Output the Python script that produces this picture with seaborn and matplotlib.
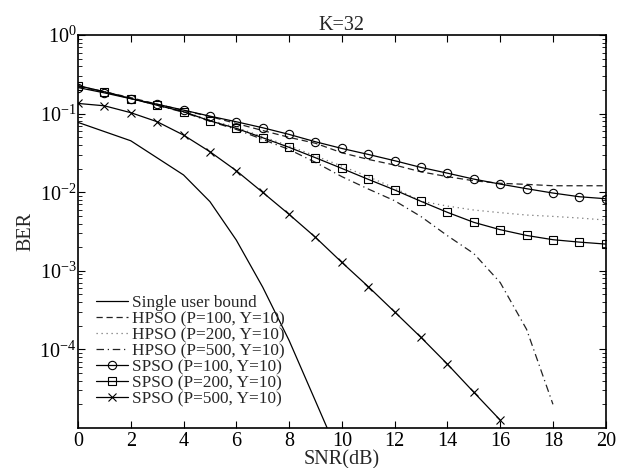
import numpy as np
import pandas as pd
import matplotlib
matplotlib.use("Agg")
import matplotlib.pyplot as plt
import seaborn as sns
from matplotlib.ticker import LogLocator, NullFormatter, LogFormatterSciNotation

# ---- data ----
snr = list(range(0, 21))
single_snr = [0, 2, 4, 5, 6, 7, 8, 9, 10]
single_ber = [0.0775, 0.0452, 0.0166, 0.0076, 0.00246, 6.2e-4, 1.3e-4, 2.2e-5, 3.7e-6]

hpso100 = [0.22, 0.19, 0.16, 0.132, 0.11, 0.092, 0.075, 0.061, 0.05, 0.042, 0.0318,
           0.0262, 0.0222, 0.0182, 0.0158, 0.0140, 0.0130, 0.0126, 0.0121, 0.0121, 0.0121]
hpso200 = [0.225, 0.19, 0.158, 0.13, 0.107, 0.083, 0.067, 0.051, 0.039, 0.029, 0.0215,
           0.0158, 0.0113, 0.0077, 0.00667, 0.00594, 0.0055, 0.00513, 0.00493, 0.0047, 0.00443]
hpso500_snr = list(range(0, 19))
hpso500 = [0.225, 0.19, 0.157, 0.128, 0.104, 0.08, 0.063, 0.047, 0.035, 0.024, 0.0158,
           0.011, 0.0078, 0.0049, 0.0028, 0.00166, 7.1e-4, 1.8e-4, 2.0e-5]
spso100 = [0.215, 0.184, 0.155, 0.132, 0.111, 0.093, 0.0789, 0.0662, 0.0545, 0.0439, 0.0361,
           0.0303, 0.0252, 0.0207, 0.0175, 0.0147, 0.0127, 0.0111, 0.00977, 0.00877, 0.00827]
spso200 = [0.228, 0.19, 0.156, 0.128, 0.106, 0.081, 0.065, 0.0494, 0.0373, 0.0275, 0.0201,
           0.0146, 0.0107, 0.00766, 0.00555, 0.00414, 0.00334, 0.00282, 0.00249, 0.00232, 0.00219]
spso500_snr = list(range(0, 17))
spso500 = [0.135, 0.126, 0.103, 0.079, 0.0534, 0.0328, 0.0188, 0.00996, 0.00523, 0.00267,
           0.00128, 6.3e-4, 3.0e-4, 1.42e-4, 6.5e-5, 2.85e-5, 1.26e-5]

labels = ["Single user bound", "HPSO (P=100, Y=10)", "HPSO (P=200, Y=10)",
          "HPSO (P=500, Y=10)", "SPSO (P=100, Y=10)", "SPSO (P=200, Y=10)",
          "SPSO (P=500, Y=10)"]
yticks = [1e-4, 1e-3, 1e-2, 1e-1, 1e0]

sns.set_theme(style="ticks")
plt.rcParams["font.family"] = ["Liberation Serif", "DejaVu Serif"]
plt.rcParams["mathtext.fontset"] = "custom"
plt.rcParams["mathtext.rm"] = "Liberation Serif"
plt.rcParams["mathtext.it"] = "Liberation Serif:italic"
plt.rcParams["mathtext.bf"] = "Liberation Serif:bold"

fig = plt.figure(figsize=(6.2, 4.68), dpi=100)
ax = fig.add_axes([0.1258, 0.0855, 0.977 - 0.1258, 0.925 - 0.0855])

series = [
    (single_snr, single_ber, dict(color="black", linestyle="-", marker=None)),
    (snr, hpso100, dict(color="#222222", linestyle=(0, (5, 3)), marker=None)),
    (snr, hpso200, dict(color="#777777", linestyle=(0, (1, 3)), marker=None)),
    (hpso500_snr, hpso500, dict(color="#222222", linestyle=(0, (6, 3, 1, 3)), marker=None)),
    (snr, spso100, dict(color="black", linestyle="-", marker="o", markersize=6,
                        markerfacecolor="none", markeredgecolor="black", markeredgewidth=0.8)),
    (snr, spso200, dict(color="black", linestyle="-", marker="s", markersize=5.5,
                        markerfacecolor="none", markeredgecolor="black", markeredgewidth=0.8)),
    (spso500_snr, spso500, dict(color="black", linestyle="-", marker="x", markersize=6,
                                markeredgecolor="black", markeredgewidth=0.8)),
]

for (xs, ys, style), lab in zip(series, labels):
    df = pd.DataFrame({"snr": xs, "ber": ys})
    sns.lineplot(data=df, x="snr", y="ber", ax=ax, label=lab, linewidth=0.9,
                 sort=False, estimator=None, **style)

ax.set_yscale("log")
ax.set_xlim(0, 20)
ax.set_ylim(1e-5, 1)
ax.set_xticks(range(0, 21, 2))
ax.set_yticks(yticks)
ax.yaxis.set_major_formatter(LogFormatterSciNotation())
ax.yaxis.set_minor_locator(LogLocator(base=10, subs=np.arange(2, 10), numticks=20))
ax.yaxis.set_minor_formatter(NullFormatter())

ax.tick_params(axis="both", which="both", direction="in", top=True, right=True,
               labelsize=14.5, colors="black")
ax.tick_params(axis="x", which="major", pad=3)
ax.tick_params(axis="y", which="major", pad=1)
ax.tick_params(axis="both", which="major", length=5, width=0.8)
ax.tick_params(axis="y", which="minor", length=3, width=0.6)
for sp in ax.spines.values():
    sp.set_color("black")
    sp.set_linewidth(1.2)

ax.set_xlabel("SNR(dB)", fontsize=14.5, labelpad=-1)
ax.set_ylabel("BER", fontsize=14.5, labelpad=3)
ax.set_title("K=32", fontsize=14.5, pad=4)

leg = ax.legend(loc="lower left", bbox_to_anchor=(0.021, 0.035), frameon=False,
                fontsize=12.4, handlelength=1.85, handletextpad=0.25,
                labelspacing=0.0, borderaxespad=0.0, borderpad=0.4)

fig.savefig("out.png", dpi=100)
